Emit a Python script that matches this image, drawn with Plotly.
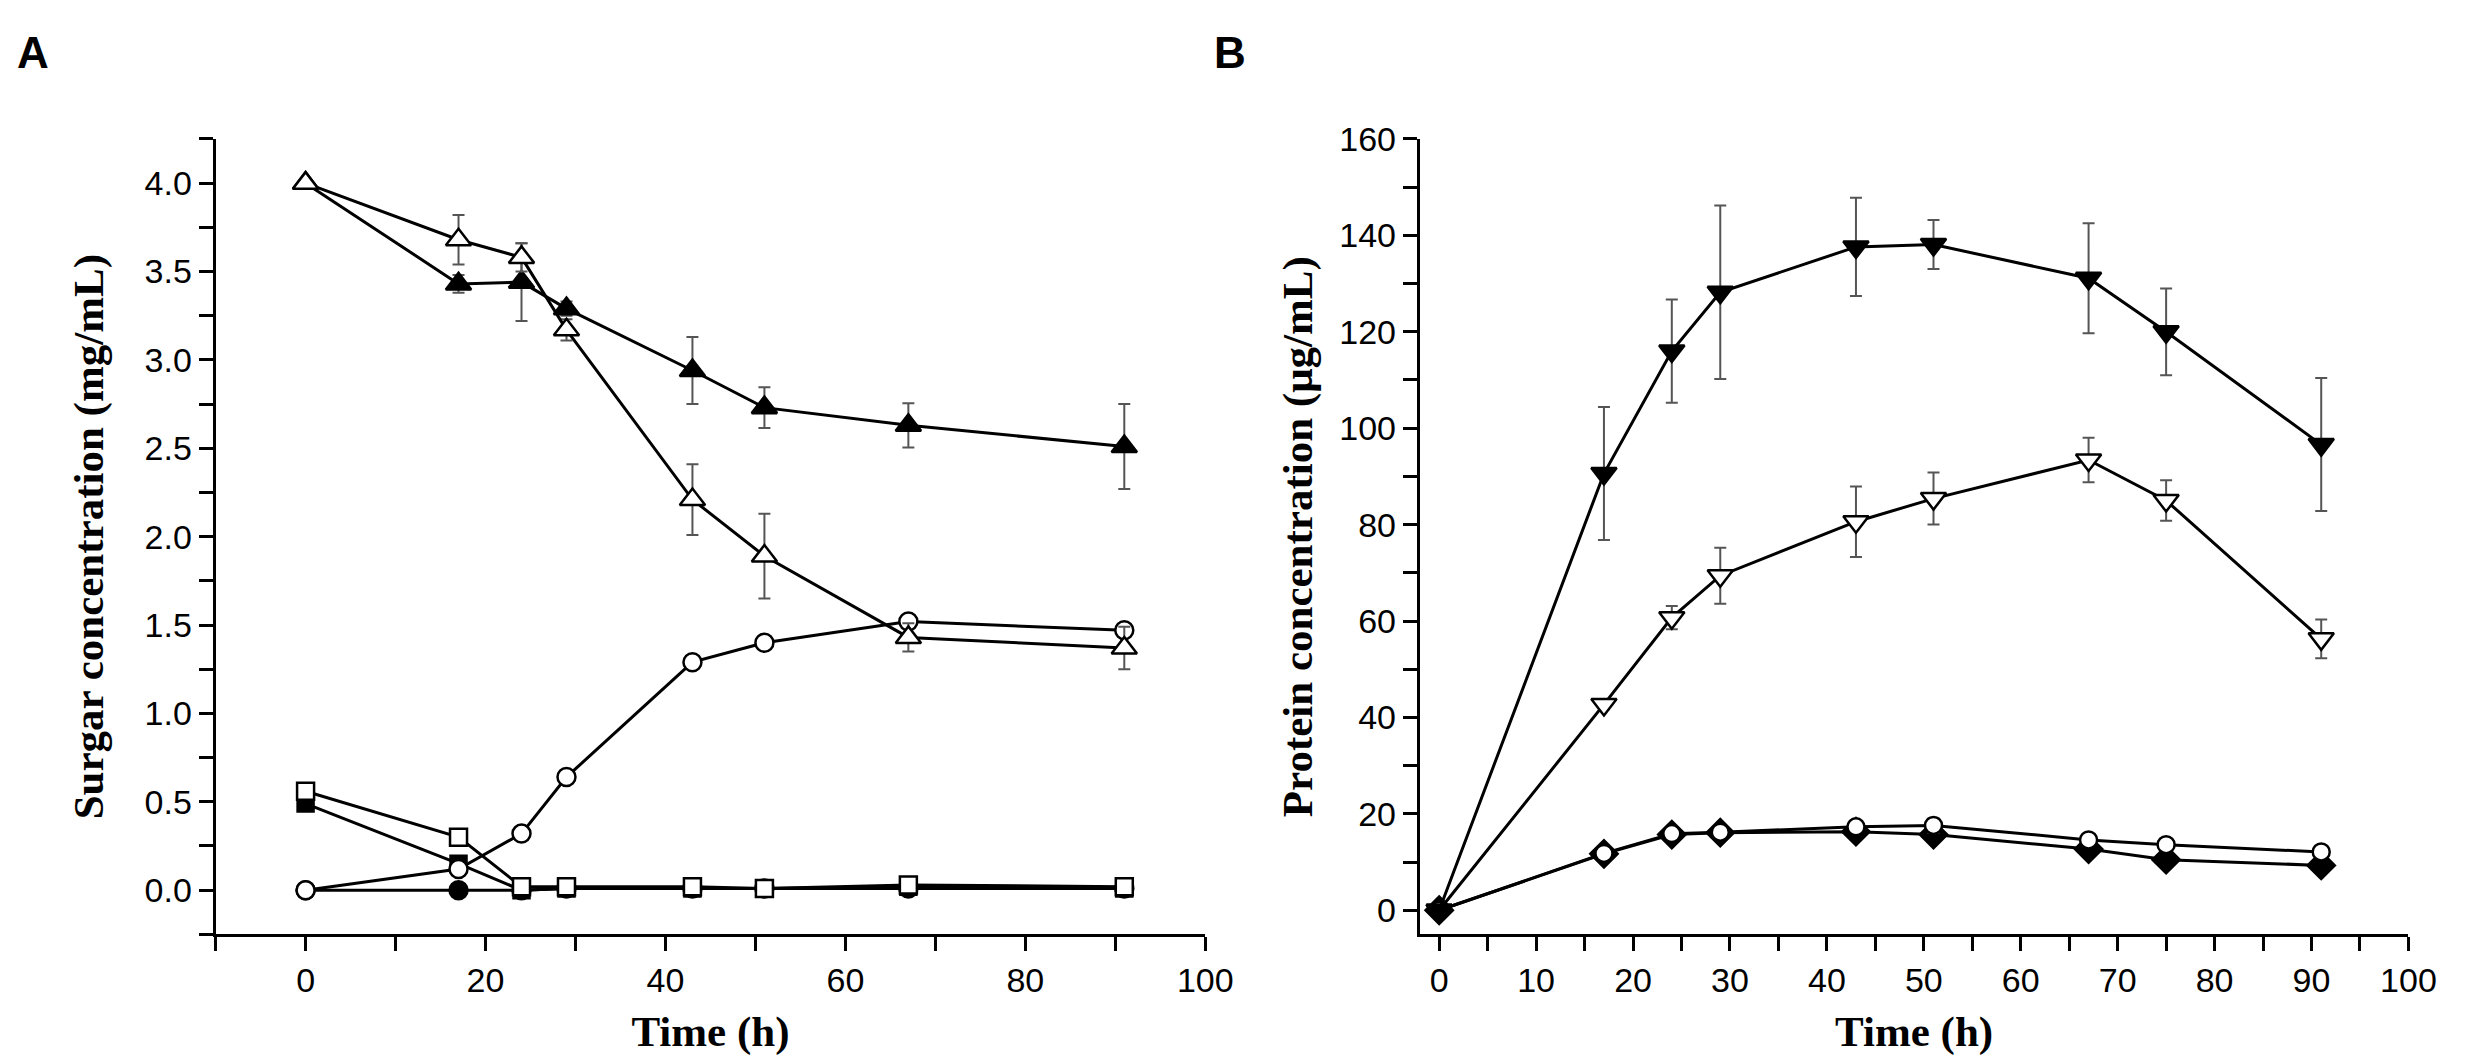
import plotly.graph_objects as go

# ---------------- Panel A data ----------------
time_a = [0, 17, 24, 29, 43, 51, 67, 91]
tri_filled_a = [4.0, 3.43, 3.44, 3.29, 2.94, 2.73, 2.63, 2.51]
tri_filled_a_err = [0, 0.05, 0.22, 0.04, 0.19, 0.115, 0.125, 0.24]
tri_open_a = [4.0, 3.68, 3.58, 3.17, 2.21, 1.89, 1.43, 1.37]
tri_open_a_err = [0, 0.14, 0.08, 0.06, 0.20, 0.24, 0.08, 0.12]
circ_open_a = [0.0, 0.12, 0.32, 0.64, 1.29, 1.40, 1.52, 1.47]
circ_filled_a = [0.0, 0.0, 0.0, 0.01, 0.01, 0.01, 0.01, 0.01]
sq_open_a = [0.56, 0.30, 0.02, 0.02, 0.02, 0.01, 0.03, 0.02]
sq_filled_a = [0.49, 0.15, 0.0, 0.01, 0.01, 0.01, 0.02, 0.01]

# ---------------- Panel B data ----------------
time_b = [0, 17, 24, 29, 43, 51, 67, 75, 91]
tri_down_filled_b = [0, 90.6, 116.0, 128.2, 137.6, 138.1, 131.1, 120.0, 96.6]
tri_down_filled_b_err = [0, 13.8, 10.7, 18.0, 10.2, 5.1, 11.4, 9.0, 13.8]
tri_down_open_b = [0, 42.7, 60.7, 69.4, 80.6, 85.4, 93.4, 85.0, 56.3]
tri_down_open_b_err = [0, 1.0, 2.4, 5.8, 7.3, 5.4, 4.6, 4.2, 4.0]
dia_filled_b = [0, 11.7, 15.7, 16.1, 16.3, 15.7, 12.7, 10.5, 9.3]
circ_open_b = [0, 11.8, 15.9, 16.2, 17.3, 17.6, 14.6, 13.6, 12.1]
circ_open_b_err = [0, 0, 0, 0, 1.2, 1.5, 0, 0, 0]

W, H = 2467, 1056
TICK_FONT = dict(family="Liberation Sans, Arial, sans-serif", size=34, color="black")
TITLE_FONT = dict(family="Liberation Serif, Times New Roman, serif", size=43, color="black")
ERR_COLOR = "#555555"

fig = go.Figure()


def add_series(x, y, xa, ya, symbol, filled, size, err=None):
    marker = dict(
        symbol=symbol,
        size=size,
        color="black" if filled else "white",
        line=dict(color="black", width=2.5),
    )
    kw = {}
    if err is not None:
        kw["error_y"] = dict(type="data", array=err, visible=True,
                             color=ERR_COLOR, thickness=2, width=6)
    fig.add_trace(go.Scatter(
        x=x, y=y, mode="lines+markers", xaxis=xa, yaxis=ya,
        line=dict(color="black", width=3), marker=marker,
        showlegend=False, **kw))


# Panel A
add_series(time_a, circ_filled_a, "x", "y", "circle", True, 18)
add_series(time_a, sq_filled_a, "x", "y", "square", True, 16)
add_series(time_a, circ_open_a, "x", "y", "circle", False, 18)
add_series(time_a, sq_open_a, "x", "y", "square", False, 17)
add_series(time_a, tri_filled_a, "x", "y", "triangle-up", True, 22, tri_filled_a_err)
add_series(time_a, tri_open_a, "x", "y", "triangle-up", False, 22, tri_open_a_err)

# Panel B
add_series(time_b, dia_filled_b, "x2", "y2", "diamond", True, 21)
add_series(time_b, circ_open_b, "x2", "y2", "circle", False, 17, circ_open_b_err)
add_series(time_b, tri_down_open_b, "x2", "y2", "triangle-down", False, 22, tri_down_open_b_err)
add_series(time_b, tri_down_filled_b, "x2", "y2", "triangle-down", True, 22, tri_down_filled_b_err)

axis_common = dict(
    showline=True, linecolor="black", linewidth=3, mirror=False,
    showgrid=False, zeroline=False,
    ticks="outside", ticklen=14, tickwidth=3, tickcolor="black",
    tickfont=TICK_FONT,
)

ya_dom = [(H - 924) / H, (H - 114) / H]

fig.update_layout(
    width=W, height=H,
    margin=dict(l=0, r=0, t=0, b=0),
    paper_bgcolor="white", plot_bgcolor="white",
    xaxis=dict(**axis_common, domain=[210 / W, 1211 / W], range=[-10, 100],
               tick0=0, dtick=20, anchor="y",
               minor=dict(dtick=10, tick0=0, ticklen=14, tickwidth=3, tickcolor="black", ticks="outside"),
               title=dict(text="<b>Time (h)</b>", font=TITLE_FONT, standoff=18)),
    yaxis=dict(**axis_common, domain=ya_dom, range=[-0.25, 4.25],
               tick0=0, dtick=0.5, tickformat=".1f", anchor="x",
               minor=dict(dtick=0.25, tick0=0, ticklen=14, tickwidth=3, tickcolor="black", ticks="outside"),
               title=dict(text="<b>Surgar concentration (mg/mL)</b>", font=TITLE_FONT, standoff=28)),
    xaxis2=dict(**axis_common, domain=[1428 / W, 2428 / W], range=[-2, 100],
                tick0=0, dtick=10, anchor="y2",
                minor=dict(dtick=5, tick0=0, ticklen=14, tickwidth=3, tickcolor="black", ticks="outside"),
                title=dict(text="<b>Time (h)</b>", font=TITLE_FONT, standoff=18)),
    yaxis2=dict(**axis_common, domain=ya_dom, range=[-5, 160],
                tick0=0, dtick=20, anchor="x2",
                minor=dict(dtick=10, tick0=0, ticklen=14, tickwidth=3, tickcolor="black", ticks="outside"),
                title=dict(text="<b>Protein concentration (μg/mL)</b>", font=TITLE_FONT, standoff=14)),
    annotations=[
        dict(text="<b>A</b>", x=7 / W, y=1 - 26 / H, xref="paper", yref="paper",
             xanchor="left", yanchor="middle", showarrow=False,
             font=dict(family="Liberation Sans, Arial, sans-serif", size=44, color="black")),
        dict(text="<b>B</b>", x=1218 / W, y=1 - 26 / H, xref="paper", yref="paper",
             xanchor="left", yanchor="middle", showarrow=False,
             font=dict(family="Liberation Sans, Arial, sans-serif", size=44, color="black")),
    ],
)

fig.write_html("out.html")
